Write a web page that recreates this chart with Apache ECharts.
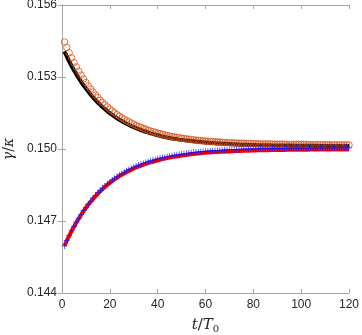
<!DOCTYPE html>
<html>
<head>
    <meta charset="utf-8">
    <title>ECharts</title>
    <script src="https://cdn.jsdelivr.net/npm/echarts@6/dist/echarts.min.js"></script>
    <style>
        html, body { margin: 0; padding: 0; background: #fff; }
    </style>
</head>
<body>
    <div id="main" style="width: 362px;height:335px;"></div>
    <script type="text/javascript">
        // t/T0 runs 1,2,...,120 for every series
        var tStart = 1;
        var tStep = 1;

        // orange circles (upper, markers)
        var upperMarkers = [
            0.15446,0.15423,0.15401,0.15380,0.15360,0.15342,0.15324,0.15308,0.15292,0.15277,
            0.15263,0.15250,0.15237,0.15225,0.15214,0.15203,0.15193,0.15184,0.15175,0.15166,
            0.15158,0.15151,0.15143,0.15137,0.15130,0.15124,0.15118,0.15113,0.15108,0.15103,
            0.15098,0.15094,0.15090,0.15086,0.15082,0.15078,0.15075,0.15072,0.15069,0.15066,
            0.15064,0.15061,0.15059,0.15056,0.15054,0.15052,0.15050,0.15049,0.15047,0.15045,
            0.15044,0.15042,0.15041,0.15040,0.15038,0.15037,0.15036,0.15035,0.15034,0.15033,
            0.15032,0.15031,0.15031,0.15030,0.15029,0.15029,0.15028,0.15027,0.15027,0.15026,
            0.15026,0.15025,0.15025,0.15024,0.15024,0.15024,0.15023,0.15023,0.15023,0.15022,
            0.15022,0.15022,0.15021,0.15021,0.15021,0.15021,0.15021,0.15020,0.15020,0.15020,
            0.15020,0.15020,0.15020,0.15019,0.15019,0.15019,0.15019,0.15019,0.15019,0.15019,
            0.15019,0.15019,0.15018,0.15018,0.15018,0.15018,0.15018,0.15018,0.15018,0.15018,
            0.15018,0.15017,0.15017,0.15017,0.15017,0.15017,0.15017,0.15017,0.15017,0.15017
        ];
        // black line (upper)
        var upperLine = [
            0.15407,0.15386,0.15365,0.15346,0.15328,0.15311,0.15295,0.15280,0.15265,0.15252,
            0.15239,0.15226,0.15215,0.15204,0.15193,0.15184,0.15174,0.15166,0.15157,0.15149,
            0.15142,0.15135,0.15128,0.15122,0.15116,0.15111,0.15105,0.15100,0.15095,0.15091,
            0.15087,0.15083,0.15079,0.15075,0.15072,0.15069,0.15065,0.15063,0.15060,0.15057,
            0.15055,0.15052,0.15050,0.15048,0.15046,0.15044,0.15043,0.15041,0.15039,0.15038,
            0.15037,0.15035,0.15034,0.15033,0.15032,0.15031,0.15030,0.15029,0.15028,0.15027,
            0.15026,0.15025,0.15025,0.15024,0.15023,0.15023,0.15022,0.15022,0.15021,0.15021,
            0.15020,0.15020,0.15019,0.15019,0.15018,0.15018,0.15018,0.15017,0.15017,0.15017,
            0.15017,0.15016,0.15016,0.15016,0.15016,0.15016,0.15016,0.15015,0.15015,0.15015,
            0.15015,0.15015,0.15015,0.15015,0.15015,0.15015,0.15014,0.15014,0.15014,0.15014,
            0.15014,0.15014,0.15014,0.15014,0.15014,0.15014,0.15013,0.15013,0.15013,0.15013,
            0.15013,0.15013,0.15013,0.15013,0.15013,0.15013,0.15013,0.15013,0.15013,0.15013
        ];
        // blue pluses (lower, markers)
        var lowerMarkers = [
            0.14596,0.14618,0.14639,0.14659,0.14678,0.14695,0.14712,0.14728,0.14743,0.14757,
            0.14771,0.14783,0.14796,0.14807,0.14818,0.14828,0.14837,0.14847,0.14855,0.14863,
            0.14871,0.14878,0.14885,0.14892,0.14898,0.14904,0.14909,0.14915,0.14919,0.14924,
            0.14929,0.14933,0.14937,0.14940,0.14944,0.14947,0.14951,0.14954,0.14956,0.14959,
            0.14962,0.14964,0.14966,0.14968,0.14970,0.14972,0.14974,0.14976,0.14978,0.14979,
            0.14980,0.14982,0.14983,0.14984,0.14986,0.14987,0.14988,0.14989,0.14990,0.14991,
            0.14991,0.14992,0.14993,0.14994,0.14994,0.14995,0.14995,0.14996,0.14997,0.14997,
            0.14998,0.14998,0.14998,0.14999,0.14999,0.15000,0.15000,0.15000,0.15001,0.15001,
            0.15001,0.15001,0.15002,0.15002,0.15002,0.15002,0.15002,0.15003,0.15003,0.15003,
            0.15003,0.15003,0.15003,0.15003,0.15004,0.15004,0.15004,0.15004,0.15004,0.15004,
            0.15004,0.15004,0.15004,0.15004,0.15004,0.15005,0.15005,0.15005,0.15005,0.15005,
            0.15005,0.15005,0.15005,0.15005,0.15005,0.15005,0.15005,0.15005,0.15005,0.15005
        ];
        // red line (lower)
        var lowerLine = [
            0.14596,0.14618,0.14638,0.14658,0.14676,0.14694,0.14710,0.14726,0.14741,0.14755,
            0.14768,0.14780,0.14792,0.14803,0.14814,0.14824,0.14833,0.14842,0.14851,0.14859,
            0.14866,0.14874,0.14880,0.14887,0.14893,0.14898,0.14904,0.14909,0.14914,0.14919,
            0.14923,0.14927,0.14931,0.14935,0.14938,0.14941,0.14944,0.14947,0.14950,0.14953,
            0.14955,0.14958,0.14960,0.14962,0.14964,0.14966,0.14968,0.14969,0.14971,0.14973,
            0.14974,0.14975,0.14977,0.14978,0.14979,0.14980,0.14981,0.14982,0.14983,0.14984,
            0.14985,0.14985,0.14986,0.14987,0.14987,0.14988,0.14989,0.14989,0.14990,0.14990,
            0.14991,0.14991,0.14992,0.14992,0.14992,0.14993,0.14993,0.14993,0.14994,0.14994,
            0.14994,0.14995,0.14995,0.14995,0.14995,0.14995,0.14996,0.14996,0.14996,0.14996,
            0.14996,0.14996,0.14996,0.14997,0.14997,0.14997,0.14997,0.14997,0.14997,0.14997,
            0.14997,0.14997,0.14997,0.14998,0.14998,0.14998,0.14998,0.14998,0.14998,0.14998,
            0.14998,0.14998,0.14998,0.14998,0.14998,0.14998,0.14998,0.14998,0.14998,0.14998
        ];

        var xTicks = [0, 20, 40, 60, 80, 100, 120];
        var yTicks = [0.144, 0.147, 0.150, 0.153, 0.156];

        function pairs(vals) {
            var out = [];
            for (var i = 0; i < vals.length; i++) {
                out.push([tStart + i * tStep, vals[i]]);
            }
            return out;
        }

        var myChart = echarts.init(document.getElementById('main'));

        var axisGray = '#a6a6a6';
        var textColor = '#262626';
        var plusPath = 'path://M4.35,0h1.3v4.35h4.35v1.3h-4.35v4.35h-1.3v-4.35h-4.35v-1.3h4.35z';

        var option = {
            animation: false,
            backgroundColor: '#fff',
            grid: {left: 62, right: 13, top: 5, bottom: 42, containLabel: false, outerBoundsMode: 'none'},
            xAxis: [
                {
                    type: 'value', min: xTicks[0], max: xTicks[xTicks.length - 1], interval: 20,
                    name: '{i|t}{n|/}{i|T}{s|0}',
                    nameLocation: 'middle', nameGap: 23,
                    nameTextStyle: {
                        rich: {
                            i: {fontFamily: 'DejaVu Serif', fontStyle: 'italic', fontSize: 15, color: textColor},
                            n: {fontFamily: 'DejaVu Serif', fontSize: 15, color: textColor},
                            s: {fontFamily: 'DejaVu Serif', fontSize: 10, color: textColor, padding: [8, 0, 0, 0]}
                        }
                    },
                    axisLine: {lineStyle: {color: axisGray, width: 1}},
                    axisTick: {inside: true, length: 4, lineStyle: {color: axisGray}},
                    axisLabel: {color: textColor, fontFamily: 'Liberation Sans', fontSize: 12, margin: 6},
                    splitLine: {show: false}
                },
                {
                    type: 'value', position: 'top', min: 0, max: 120, interval: 20,
                    axisLine: {show: true, lineStyle: {color: axisGray, width: 1}},
                    axisTick: {inside: true, length: 4, lineStyle: {color: axisGray}},
                    axisLabel: {show: false},
                    splitLine: {show: false}
                }
            ],
            yAxis: [
                {
                    type: 'value', min: yTicks[0], max: yTicks[yTicks.length - 1], interval: 0.003,
                    name: '{i|γ}{n|/}{i|κ}',
                    nameLocation: 'middle', nameGap: 40, nameRotate: 90,
                    nameTextStyle: {
                        rich: {
                            i: {fontFamily: 'DejaVu Serif', fontStyle: 'italic', fontSize: 14, color: textColor},
                            n: {fontFamily: 'DejaVu Serif', fontSize: 14, color: textColor}
                        }
                    },
                    axisLine: {show: true, lineStyle: {color: axisGray, width: 1}},
                    axisTick: {show: true, inside: true, length: 4, lineStyle: {color: axisGray}},
                    axisLabel: {
                        color: textColor, fontFamily: 'Liberation Sans', fontSize: 12, margin: 5,
                        formatter: function (v) { return v.toFixed(3); }
                    },
                    splitLine: {show: false}
                },
                {
                    type: 'value', position: 'right', min: 0.144, max: 0.156, interval: 0.003,
                    axisLine: {show: true, lineStyle: {color: axisGray, width: 1}},
                    axisTick: {show: true, inside: true, length: 4, lineStyle: {color: axisGray}},
                    axisLabel: {show: false},
                    splitLine: {show: false}
                }
            ],
            series: [
                {
                    type: 'line', data: pairs(upperLine), showSymbol: false, symbol: 'none',
                    lineStyle: {color: '#000', width: 4}, z: 2
                },
                {
                    type: 'scatter', data: pairs(upperMarkers), symbol: 'circle', symbolSize: 6.5,
                    itemStyle: {color: 'rgba(0,0,0,0)', borderColor: '#D95319', borderWidth: 1}, z: 3
                },
                {
                    type: 'line', data: pairs(lowerLine), showSymbol: false, symbol: 'none',
                    lineStyle: {color: '#ff0000', width: 4}, z: 2
                },
                {
                    type: 'scatter', data: pairs(lowerMarkers), symbol: plusPath, symbolSize: 6,
                    itemStyle: {color: '#1010ff'}, z: 4
                }
            ]
        };

        myChart.setOption(option);
    </script>
</body>
</html>
